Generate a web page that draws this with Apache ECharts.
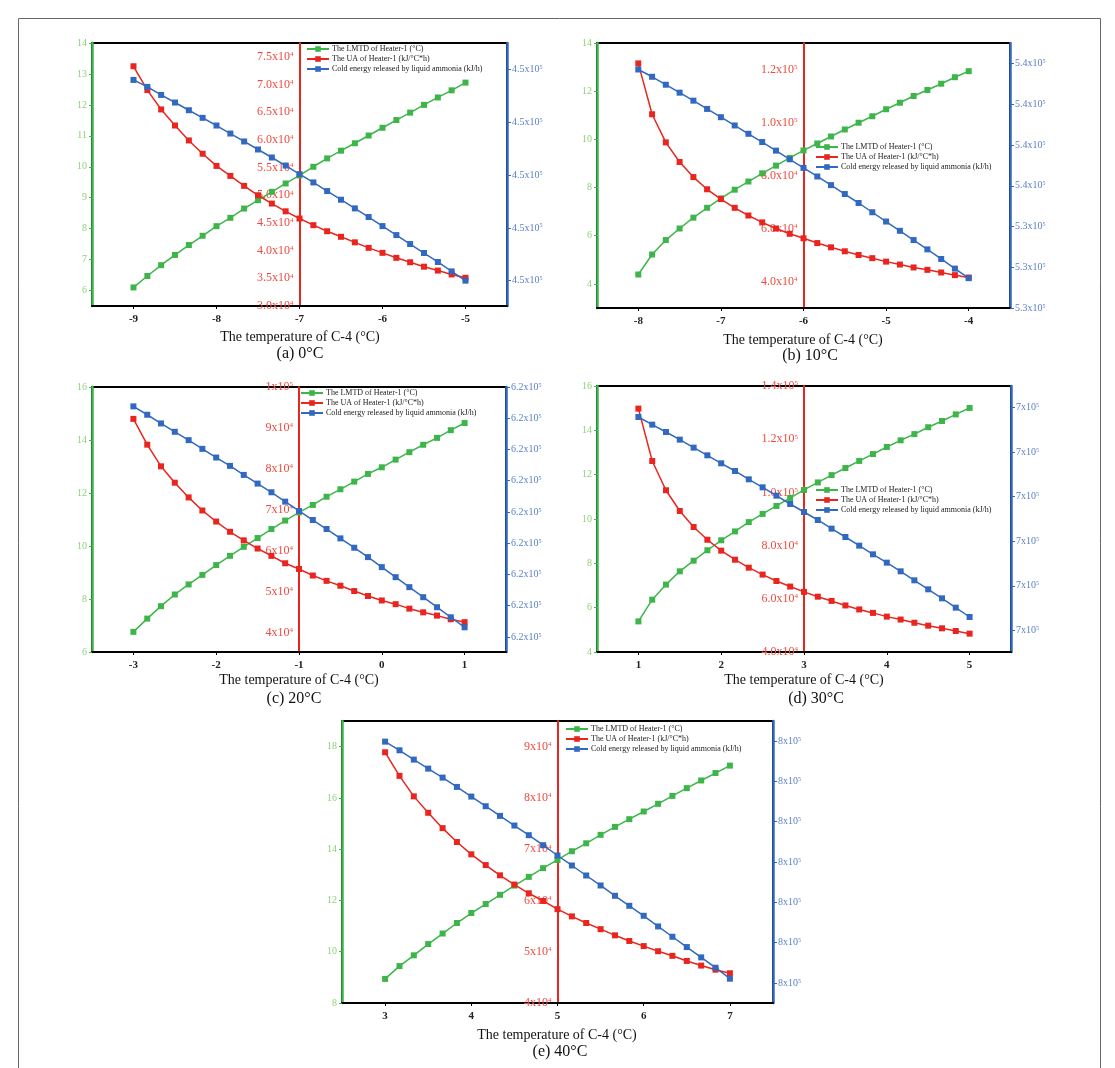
<!DOCTYPE html>
<html><head><meta charset="utf-8">
<script src="https://cdn.jsdelivr.net/npm/echarts@6/dist/echarts.min.js"></script>
<style>html,body{margin:0;padding:0;background:#fff}#c{width:1115px;height:1068px}</style>
</head><body><div id="c"></div>
<script>
const seriesNames = ['The LMTD of Heater-1 (°C)', 'The UA of Heater-1 (kJ/°C*h)', 'Cold energy released by liquid ammonia (kJ/h)'];
const captions = ['(a) 0°C', '(b) 10°C', '(c) 20°C', '(d) 30°C', '(e) 40°C'];
const xTitle = 'The temperature of C-4 (°C)';

// ---- Panel (a) 0°C ----
const xA = [-9,-8.833,-8.667,-8.5,-8.333,-8.167,-8,-7.833,-7.667,-7.5,-7.333,-7.167,-7,-6.833,-6.667,-6.5,-6.333,-6.167,-6,-5.833,-5.667,-5.5,-5.333,-5.167,-5];
const lmtdA = [6.10,6.47,6.82,7.15,7.47,7.77,8.08,8.35,8.65,8.92,9.19,9.46,9.72,10.00,10.27,10.52,10.76,11.01,11.26,11.51,11.75,12.00,12.24,12.47,12.72];
const uaA = [73300,69000,65500,62600,59900,57500,55300,53500,51700,50000,48500,47100,45800,44600,43500,42500,41500,40500,39600,38700,37900,37100,36400,35700,35100];
const coldA = [451902,451836,451760,451688,451615,451543,451470,451394,451319,451243,451167,451091,451009,450931,450849,450767,450685,450603,450517,450432,450347,450262,450177,450088,450000];
const xTicksA = [-9,-8,-7,-6,-5];
const lmtdTicksA = [6,7,8,9,10,11,12,13,14];
const uaTicksA = [30000,35000,40000,45000,50000,55000,60000,65000,70000,75000];
const coldTicksA = [450000,450500,451000,451500,452000];

// ---- Panel (b) 10°C ----
const xB = [-8,-7.833,-7.667,-7.5,-7.333,-7.167,-7,-6.833,-6.667,-6.5,-6.333,-6.167,-6,-5.833,-5.667,-5.5,-5.333,-5.167,-5,-4.833,-4.667,-4.5,-4.333,-4.167,-4];
const lmtdB = [4.39,5.22,5.82,6.30,6.75,7.16,7.55,7.91,8.25,8.59,8.91,9.23,9.54,9.83,10.12,10.41,10.69,10.96,11.25,11.52,11.80,12.05,12.31,12.58,12.83];
const uaB = [122300,103100,92500,85100,79400,74800,71100,67800,64900,62300,60000,58000,56300,54500,52900,51400,50000,48800,47500,46400,45300,44400,43400,42400,41500];
const coldB = [538354,538175,537980,537785,537589,537386,537183,536980,536776,536573,536362,536150,535939,535728,535516,535297,535077,534850,534622,534394,534167,533939,533703,533467,533232];
const xTicksB = [-8,-7,-6,-5,-4];
const lmtdTicksB = [4,6,8,10,12,14];
const uaTicksB = [40000,60000,80000,100000,120000];
const coldTicksB = [532500,533500,534500,535500,536500,537500,538500];

// ---- Panel (c) 20°C ----
const xC = [-3,-2.833,-2.667,-2.5,-2.333,-2.167,-2,-1.833,-1.667,-1.5,-1.333,-1.167,-1,-0.833,-0.667,-0.5,-0.333,-0.167,0,0.167,0.333,0.5,0.667,0.833,1];
const lmtdC = [6.76,7.26,7.73,8.17,8.55,8.91,9.28,9.63,9.97,10.30,10.64,10.96,11.27,11.55,11.86,12.14,12.43,12.72,12.97,13.26,13.54,13.82,14.08,14.37,14.64];
const uaC = [92200,85900,80600,76600,73000,69800,67100,64600,62500,60500,58700,56900,55500,53900,52600,51400,50100,48900,47800,46900,45800,44900,44100,43200,42500];
const coldC = [623380,623112,622834,622567,622299,622021,621743,621476,621187,620909,620631,620331,620032,619743,619455,619155,618856,618556,618235,617914,617594,617273,616952,616631,616310];
const xTicksC = [-3,-2,-1,0,1];
const lmtdTicksC = [6,8,10,12,14,16];
const uaTicksC = [40000,50000,60000,70000,80000,90000,100000];
const coldTicksC = [616000,617000,618000,619000,620000,621000,622000,623000,624000];

// ---- Panel (d) 30°C ----
const xD = [1,1.167,1.333,1.5,1.667,1.833,2,2.167,2.333,2.5,2.667,2.833,3,3.167,3.333,3.5,3.667,3.833,4,4.167,4.333,4.5,4.667,4.833,5];
const lmtdD = [5.38,6.36,7.04,7.64,8.12,8.59,9.04,9.44,9.86,10.23,10.59,10.95,11.31,11.65,11.98,12.30,12.62,12.93,13.25,13.55,13.83,14.14,14.42,14.72,15.01];
const uaD = [131500,111800,100800,93000,87000,82200,78100,74700,71700,69100,66700,64600,62600,60800,59200,57500,56000,54700,53300,52200,51000,49900,48900,47900,46900];
const coldD = [718955,718094,717271,716410,715512,714651,713752,712892,711956,711057,710122,709186,708288,707389,706416,705480,704507,703534,702598,701625,700615,699604,698593,697545,696497];
const xTicksD = [1,2,3,4,5];
const lmtdTicksD = [4,6,8,10,12,14,16];
const uaTicksD = [40000,60000,80000,100000,120000,140000];
const coldTicksD = [695000,700000,705000,710000,715000,720000];

// ---- Panel (e) 40°C ----
const xE = [3,3.167,3.333,3.5,3.667,3.833,4,4.167,4.333,4.5,4.667,4.833,5,5.167,5.333,5.5,5.667,5.833,6,6.167,6.333,6.5,6.667,6.833,7];
const lmtdE = [8.94,9.44,9.86,10.30,10.71,11.12,11.51,11.86,12.22,12.58,12.92,13.26,13.58,13.92,14.23,14.56,14.87,15.17,15.47,15.77,16.08,16.38,16.68,16.97,17.26];
const uaE = [88900,84300,80300,77100,74100,71400,69000,66900,64900,63100,61400,59900,58300,56900,55600,54400,53200,52100,51100,50100,49200,48200,47300,46500,45800];
const coldE = [801967,801538,801076,800630,800184,799722,799243,798765,798286,797807,797329,796833,796322,795827,795331,794836,794325,793829,793334,792806,792294,791783,791271,790759,790215];
const xTicksE = [3,4,5,6,7];
const lmtdTicksE = [8,10,12,14,16,18];
const uaTicksE = [40000,50000,60000,70000,80000,90000];
const coldTicksE = [790000,792000,794000,796000,798000,800000,802000];

// ---------- layout / styling ----------
const GREEN = '#3db54a', RED = '#e8251f', BLUE = '#3168c0';
const FONT = 'Liberation Serif';
const panels = [
  {x:xA, g:lmtdA, r:uaA, b:coldA, xt:xTicksA, gt:lmtdTicksA, rt:uaTicksA, bt:coldTicksA,
   xr:[-9.5,-4.5], gr:[5.5,14], rr:[30000,77500], br:[449760,452252], redAt:-7, rd:1, bd:1,
   grid:{left:92, top:43, width:415, height:263}, legend:{left:306, top:45}, title:[300,337], cap:[300,354]},
  {x:xB, g:lmtdB, r:uaB, b:coldB, xt:xTicksB, gt:lmtdTicksB, rt:uaTicksB, bt:coldTicksB,
   xr:[-8.5,-3.5], gr:[3,14], rr:[30000,130000], br:[532500,539004], redAt:-6, rd:1, bd:1,
   grid:{left:597, top:43, width:413, height:265}, legend:{left:815, top:143}, title:[803,340], cap:[810,356]},
  {x:xC, g:lmtdC, r:uaC, b:coldC, xt:xTicksC, gt:lmtdTicksC, rt:uaTicksC, bt:coldTicksC,
   xr:[-3.5,1.5], gr:[6,16], rr:[35200,100000], br:[615519,624000], redAt:-1, rd:0, bd:1,
   grid:{left:92, top:387, width:414, height:265}, legend:{left:300, top:389}, title:[299,680], cap:[294,699]},
  {x:xD, g:lmtdD, r:uaD, b:coldD, xt:xTicksD, gt:lmtdTicksD, rt:uaTicksD, bt:coldTicksD,
   xr:[0.5,5.5], gr:[4,16], rr:[40000,140000], br:[692567,722433], redAt:3, rd:1, bd:0,
   grid:{left:597, top:386, width:414, height:266}, legend:{left:815, top:486}, title:[804,680], cap:[816,699]},
  {x:xE, g:lmtdE, r:uaE, b:coldE, xt:xTicksE, gt:lmtdTicksE, rt:uaTicksE, bt:coldTicksE,
   xr:[2.5,7.5], gr:[8,19], rr:[40000,95000], br:[789010,802990], redAt:5, rd:0, bd:0,
   grid:{left:342, top:721, width:431, height:282}, legend:{left:565, top:725}, title:[557,1035], cap:[560,1052]}
];

function sci(v, d) {
  const e = Math.floor(Math.log10(v) + 1e-9);
  const m = v / Math.pow(10, e);
  return '{m|' + m.toFixed(d) + 'x10}{s|' + e + '}';
}
function richFor(color, size) {
  return {
    m: {color: color, fontSize: size, fontFamily: FONT},
    s: {color: color, fontSize: Math.round(size * 0.6), fontFamily: FONT, verticalAlign: 'top', lineHeight: 6}
  };
}

const grids = [], xAxes = [], yAxes = [], series = [], legends = [], graphics = [];
panels.forEach((p, i) => {
  grids.push(Object.assign({show: true, borderColor: '#000', borderWidth: 2, backgroundColor: 'transparent', containLabel: false}, p.grid));
  xAxes.push({
    type: 'value', gridIndex: i, min: p.xr[0], max: p.xr[1],
    axisLine: {onZero: false, lineStyle: {color: '#000', width: 2}},
    axisTick: {show: true, length: 3, customValues: p.xt, lineStyle: {color: '#000'}},
    axisLabel: {customValues: p.xt, color: '#222', fontSize: 11, fontFamily: FONT, margin: 8, fontWeight: 'bold'},
    splitLine: {show: false}
  });
  const gIdx = yAxes.length;
  yAxes.push({
    type: 'value', gridIndex: i, position: 'left', min: p.gr[0], max: p.gr[1],
    axisLine: {show: true, onZero: false, lineStyle: {color: GREEN, width: 2.5}},
    axisTick: {show: true, length: 3, customValues: p.gt, lineStyle: {color: GREEN}},
    axisLabel: {customValues: p.gt, color: '#8fd07c', fontSize: 10, fontFamily: FONT, margin: 5},
    splitLine: {show: false}
  });
  const pxRed = p.grid.left + (p.redAt - p.xr[0]) / (p.xr[1] - p.xr[0]) * p.grid.width;
  yAxes.push({
    type: 'value', gridIndex: i, position: 'left', offset: -(pxRed - p.grid.left), min: p.rr[0], max: p.rr[1],
    axisLine: {show: true, onZero: false, lineStyle: {color: RED, width: 2}},
    axisTick: {show: false, customValues: p.rt},
    axisLabel: {customValues: p.rt, margin: 6, formatter: (v) => sci(v, p.rd), rich: richFor('#ee4a3f', 12)},
    splitLine: {show: false}
  });
  yAxes.push({
    type: 'value', gridIndex: i, position: 'right', min: p.br[0], max: p.br[1],
    axisLine: {show: true, onZero: false, lineStyle: {color: BLUE, width: 2.5}},
    axisTick: {show: true, length: 4, customValues: p.bt, lineStyle: {color: BLUE}},
    axisLabel: {customValues: p.bt, margin: 5, formatter: (v) => sci(v, p.bd), rich: richFor('#5a7fc8', 10)},
    splitLine: {show: false}
  });
  const mk = (name, ys, color, yi) => ({
    name: name, type: 'line', xAxisIndex: i, yAxisIndex: yi,
    data: p.x.map((x, k) => [x, ys[k]]),
    symbol: 'rect', symbolSize: 6, showSymbol: true,
    lineStyle: {color: color, width: 1.5}, itemStyle: {color: color},
    z: 3, animation: false
  });
  series.push(mk(seriesNames[0], p.g, GREEN, gIdx));
  series.push(mk(seriesNames[1], p.r, RED, gIdx + 1));
  series.push(mk(seriesNames[2], p.b, BLUE, gIdx + 2));
  legends.push({
    data: seriesNames, orient: 'vertical', left: p.legend.left, top: p.legend.top, padding: 0,
    itemGap: 2, itemWidth: 22, itemHeight: 7, selectedMode: false,
    textStyle: {fontSize: 8, fontFamily: FONT, color: '#222', padding: [0, 0, 0, -2]}
  });
  graphics.push({type: 'text', x: p.title[0], y: p.title[1], style: {text: xTitle, fill: '#111', font: '14px "Liberation Serif"', textAlign: 'center', textVerticalAlign: 'middle'}});
  graphics.push({type: 'text', x: p.cap[0], y: p.cap[1], style: {text: captions[i], fill: '#111', font: '16px "Liberation Serif"', textAlign: 'center', textVerticalAlign: 'middle'}});
});
graphics.push({type: 'rect', shape: {x: 18.5, y: 18.5, width: 1082, height: 1100}, style: {fill: 'none', stroke: '#666', lineWidth: 1}, z: -1});

const chart = echarts.init(document.getElementById('c'), null, {renderer: 'canvas'});
chart.setOption({
  animation: false,
  backgroundColor: '#fff',
  grid: grids, xAxis: xAxes, yAxis: yAxes, series: series, legend: legends, graphic: graphics
});
</script></body></html>
